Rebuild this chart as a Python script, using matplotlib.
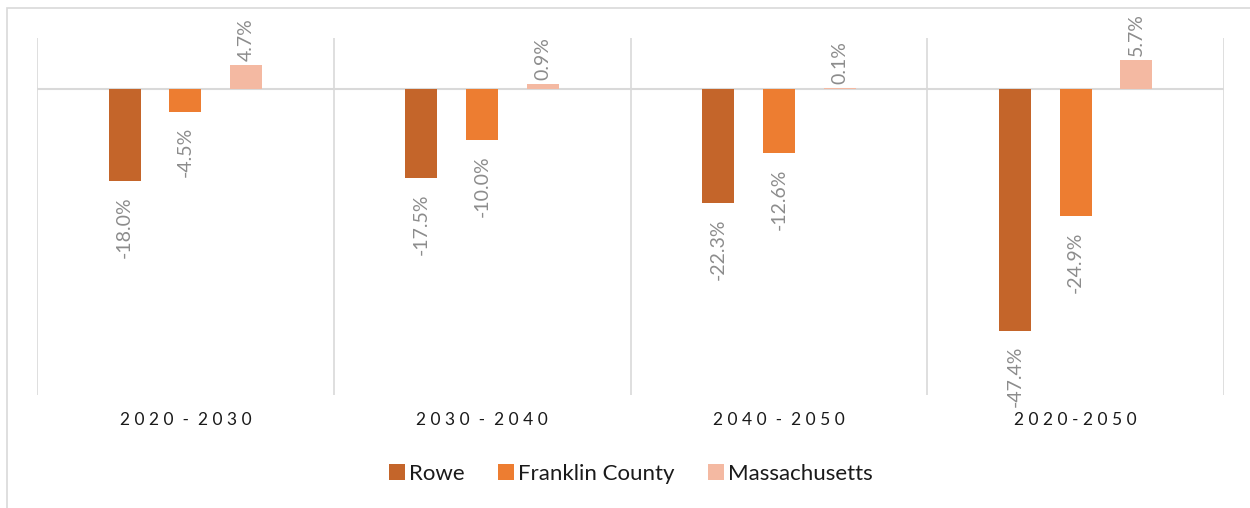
import numpy as np
import matplotlib
matplotlib.use("Agg")
import matplotlib.pyplot as plt
from matplotlib.patches import Rectangle

plt.rcParams['font.family'] = ['Lato', 'DejaVu Sans']

periods = ["2 0 2 0  -  2 0 3 0", "2 0 3 0  -  2 0 4 0",
           "2 0 4 0  -  2 0 5 0", "2 0 2 0 - 2 0 5 0"]
series = ["Rowe", "Franklin County", "Massachusetts"]
rowe = [-18.0, -17.5, -22.3, -47.4]
franklin = [-4.5, -10.0, -12.6, -24.9]
mass = [4.7, 0.9, 0.1, 5.7]
colors = ["#C4652A", "#ED7D31", "#F4B9A2"]

fig = plt.figure(figsize=(12.5, 5.08), dpi=100)
# outer chart frame
fig.patches.append(Rectangle((7 / 1250, -0.1), 1.2, 1 - 8 / 508 + 0.1,
                             transform=fig.transFigure, fill=False,
                             edgecolor="#D9D9D9", linewidth=1.2))
ax = fig.add_axes([37 / 1250, 1 - 395 / 508, (1224 - 37) / 1250, (395 - 38) / 508])

x = np.arange(len(periods))
width = 0.108
offset = 0.205
for i, (vals, name) in enumerate(zip([rowe, franklin, mass], series)):
    xs = x + (i - 1) * offset
    ax.bar(xs, vals, width, color=colors[i], label=name, zorder=3)
    for xv, v in zip(xs, vals):
        if v < 0:
            ax.annotate(f"{v:.1f}%", (xv, v), xytext=(0, -11), textcoords="offset points",
                        rotation=90, ha="center", va="top", fontsize=14, color="#8C8C8C")
        else:
            ax.annotate(f"{v:.1f}%", (xv, v), xytext=(0, 3), textcoords="offset points",
                        rotation=90, ha="center", va="bottom", fontsize=14, color="#8C8C8C")

ax.set_xlim(-0.5, 3.5)
ax.set_ylim(-60, 10)
for b in np.arange(-0.5, 4, 1):
    ax.axvline(b, color="#D9D9D9", linewidth=1.2, zorder=1)
ax.axhline(0, color="#D9D9D9", linewidth=1.5, zorder=2)

for s in ax.spines.values():
    s.set_visible(False)
ax.set_yticks([])
ax.set_xticks(x)
ax.set_xticklabels(periods, fontsize=12.5, color="#1A1A1A")
ax.tick_params(axis="x", length=0, pad=12)

fig.legend(loc="center", bbox_to_anchor=(631 / 1250, 1 - 474 / 508), ncol=3,
           frameon=False, fontsize=16, handlelength=0.7, handleheight=0.7,
           handletextpad=0.2, columnspacing=1.5, labelcolor="#1A1A1A")

fig.savefig("out.png", dpi=100)
